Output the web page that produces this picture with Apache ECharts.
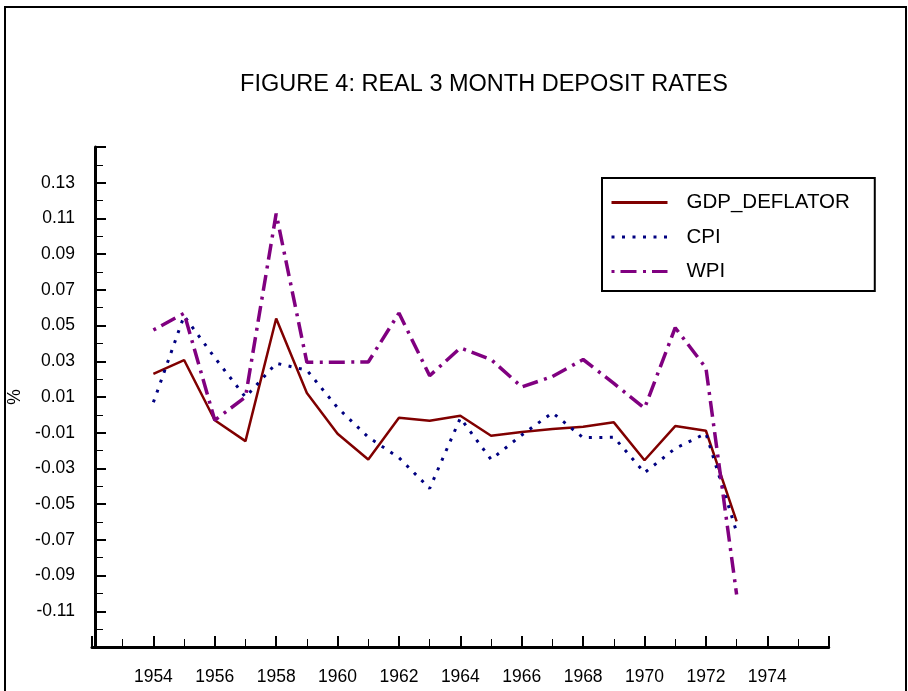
<!DOCTYPE html>
<html>
<head>
<meta charset="utf-8">
<script src="https://cdn.jsdelivr.net/npm/echarts@6/dist/echarts.min.js"></script>
<style>
html,body{margin:0;padding:0;background:#fff;}
#chart{width:908px;height:691px;}
</style>
</head>
<body>
<div id="chart"></div>
<script>
const years = [1954,1955,1956,1957,1958,1959,1960,1961,1962,1963,1964,1965,1966,1967,1968,1969,1970,1971,1972,1973];
const gdpDeflator = [0.0229,0.0307,-0.0030,-0.0147,0.0540,0.0122,-0.0106,-0.0250,-0.0016,-0.0033,-0.0005,-0.0117,-0.0096,-0.0079,-0.0067,-0.0042,-0.0254,-0.0063,-0.0089,-0.0597];
const cpi = [0.0070,0.0554,0.0320,0.0099,0.0289,0.0250,0.0040,-0.0125,-0.0240,-0.0412,-0.0018,-0.0250,-0.0113,0.0012,-0.0128,-0.0125,-0.0324,-0.0188,-0.0104,-0.0656];
const wpi = [0.0475,0.0569,-0.0030,0.0100,0.1127,0.0294,0.0295,0.0296,0.0570,0.0219,0.0375,0.0310,0.0156,0.0215,0.0310,0.0176,0.0037,0.0488,0.0263,-0.1006];
const seriesNames = ['GDP_DEFLATOR','CPI','WPI'];
const titleText = 'FIGURE 4: REAL 3 MONTH DEPOSIT RATES';
const yAxisName = '%';

const FONT = '"Liberation Sans", Arial, sans-serif';
const pairs = arr => years.map((y, i) => [y, arr[i]]);

const chart = echarts.init(document.getElementById('chart'), null, {renderer: 'canvas'});
chart.setOption({
  animation: false,
  backgroundColor: '#fff',
  graphic: [{
    type: 'rect', z: 100, silent: true,
    shape: {x: 5, y: 7, width: 901, height: 700},
    style: {fill: 'none', stroke: '#000', lineWidth: 2}
  }],
  title: {
    text: titleText,
    left: 484, top: 73, textAlign: 'center', padding: 0,
    textStyle: {fontFamily: FONT, fontSize: 23.5, fontWeight: 'normal', color: '#000'}
  },
  legend: {
    data: seriesNames.map(n => ({name: n, lineStyle: {width: 3}})),
    orient: 'vertical',
    left: 602, top: 178,
    padding: [14, 25, 9, 8],
    itemWidth: 56, itemHeight: 20, itemGap: 13.5,
    borderColor: '#000', borderWidth: 2, backgroundColor: '#fff',
    itemStyle: {color: 'rgba(0,0,0,0)', borderColor: 'rgba(0,0,0,0)', borderWidth: 0},
    textStyle: {fontFamily: FONT, fontSize: 20.5, color: '#000', padding: [0, 0, 0, 14]}
  },
  grid: {left: 92, top: 147, width: 736.7, height: 500, containLabel: false, outerBoundsMode: 'none'},
  xAxis: {
    type: 'value', min: 1952, max: 1976, interval: 2,
    axisLine: {show: true, onZero: false, lineStyle: {color: '#000', width: 3}},
    axisTick: {show: true, inside: true, length: 11, lineStyle: {color: '#000', width: 2}},
    minorTick: {show: true, splitNumber: 2, length: 8, lineStyle: {color: '#000', width: 1}},
    splitLine: {show: false},
    minorSplitLine: {show: false},
    axisLabel: {
      fontFamily: FONT, fontSize: 17.5, color: '#000', margin: 21,
      showMinLabel: false, showMaxLabel: false,
      formatter: v => String(Math.round(v))
    }
  },
  yAxis: {
    type: 'value', min: -0.13, max: 0.15, interval: 0.02, offset: -3,
    name: yAxisName, nameLocation: 'middle', nameRotate: 90, nameGap: 68,
    nameTextStyle: {fontFamily: FONT, fontSize: 17.5, color: '#000'},
    axisLine: {show: true, onZero: false, lineStyle: {color: '#000', width: 3}},
    axisTick: {show: true, inside: true, length: 11, lineStyle: {color: '#000', width: 2}},
    minorTick: {show: true, splitNumber: 2, length: 8, lineStyle: {color: '#000', width: 1}},
    splitLine: {show: false},
    minorSplitLine: {show: false},
    axisLabel: {
      fontFamily: FONT, fontSize: 17.5, color: '#000', margin: 20,
      showMinLabel: false, showMaxLabel: false,
      formatter: v => v.toFixed(2)
    }
  },
  series: [
    {
      name: seriesNames[0], type: 'line', data: pairs(gdpDeflator),
      symbol: 'none', color: '#800000',
      lineStyle: {color: '#800000', width: 2.5, type: 'solid'}
    },
    {
      name: seriesNames[1], type: 'line', data: pairs(cpi),
      symbol: 'none', color: '#000080',
      lineStyle: {color: '#000080', width: 3, type: [3, 7.5]}
    },
    {
      name: seriesNames[2], type: 'line', data: pairs(wpi),
      symbol: 'none', color: '#800080',
      lineStyle: {color: '#800080', width: 3.5, type: [3, 6, 16, 6.5]}
    }
  ]
});
</script>
</body>
</html>
